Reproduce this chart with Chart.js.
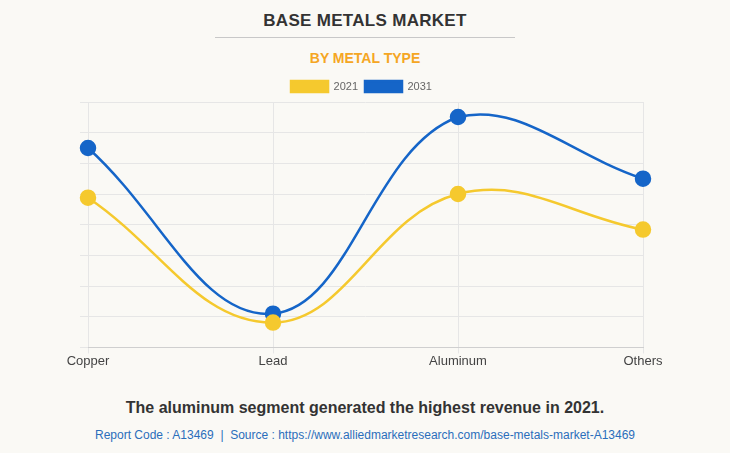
<!DOCTYPE html>
<html>
<head>
<meta charset="utf-8">
<script src="https://cdn.jsdelivr.net/npm/chart.js@4.4.0/dist/chart.umd.min.js"></script>
<style>
  body { margin: 0; background: #faf9f5; font-family: "Liberation Sans", Arial, sans-serif; }
  #page { position: relative; width: 730px; height: 453px; overflow: hidden; }
  #title { position: absolute; top: 11px; left: 0; width: 730px; text-align: center; font-size: 17px; font-weight: bold; color: #333; letter-spacing: 0.3px; }
  #rule { position: absolute; top: 37px; left: 215px; width: 300px; height: 1px; background: #c8c8c8; }
  #subtitle { position: absolute; top: 50px; left: 0; width: 730px; text-align: center; font-size: 14px; font-weight: bold; color: #f5a623; }
  #box { position: absolute; top: 74px; left: 0; width: 730px; height: 295px; }
  #note { position: absolute; top: 399px; left: 0; width: 730px; text-align: center; font-size: 16px; font-weight: bold; color: #333; }
  #src { position: absolute; top: 428px; left: 0; width: 730px; text-align: center; font-size: 12px; color: #2a6ebb; }
</style>
</head>
<body>
<div id="page">
  <div id="title">BASE METALS MARKET</div>
  <div id="rule"></div>
  <div id="subtitle">BY METAL TYPE</div>
  <div id="box"><canvas id="metalsChart"></canvas></div>
  <div id="note">The aluminum segment generated the highest revenue in 2021.</div>
  <div id="src">Report Code : A13469 &nbsp;|&nbsp; Source : https://www.alliedmarketresearch.com/base-metals-market-A13469</div>
</div>
<script>
// values (relative units, no axis labels shown)
const metals = ['Copper', 'Lead', 'Aluminum', 'Others'];
const values2021 = [4.88, 0.81, 5.0, 3.84];
const values2031 = [6.5, 1.1, 7.51, 5.5];

const yellow = '#f5c92e';
const blue = '#1565c8';

const ctx = document.getElementById('metalsChart').getContext('2d');
const metalsChart = new Chart(ctx, {
    type: 'line',
    data: {
        labels: metals,
        datasets: [{
            label: '2021',
            data: values2021,
            borderColor: yellow,
            backgroundColor: yellow,
            borderWidth: 2.5,
            pointRadius: 7,
            pointHoverRadius: 7,
            tension: 0.4
        }, {
            label: '2031',
            data: values2031,
            borderColor: blue,
            backgroundColor: blue,
            borderWidth: 2.5,
            pointRadius: 7,
            pointHoverRadius: 7,
            tension: 0.4
        }]
    },
    options: {
        responsive: true,
        maintainAspectRatio: false,
        animation: false,
        layout: {
            padding: { left: 80, right: 87, top: 0, bottom: 0 }
        },
        plugins: {
            legend: {
                display: true,
                labels: {
                    boxWidth: 37,
                    boxHeight: 11,
                    padding: 7,
                    color: '#666',
                    font: { size: 11, family: '"Liberation Sans", Arial, sans-serif' }
                }
            },
            tooltip: { enabled: false }
        },
        scales: {
            x: {
                grid: {
                    color: '#e6e6e6',
                    tickLength: 6
                },
                border: { color: '#cfcfcf' },
                ticks: {
                    color: '#444',
                    padding: 0,
                    font: { size: 13, family: '"Liberation Sans", Arial, sans-serif' }
                }
            },
            y: {
                min: 0,
                max: 8,
                grid: {
                    color: '#e6e6e6',
                    tickLength: 8
                },
                border: { display: false },
                ticks: {
                    display: false,
                    stepSize: 1
                }
            }
        }
    }
});
</script>
</body>
</html>
